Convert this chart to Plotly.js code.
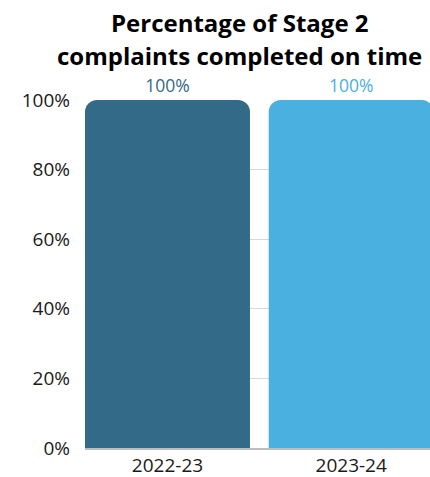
<!DOCTYPE html>
<html>
<head>
<meta charset="utf-8">
<script src="https://cdn.plot.ly/plotly-3.0.1.min.js"></script>
<style>html,body{margin:0;padding:0;background:#fff;}#chart{width:430px;height:477px;}</style>
</head>
<body>
<div id="chart"></div>
<script>
const categories = ["2022-23", "2023-24"];
const values = [100, 100];
const labels = ["100%", "100%"];
const barColors = ["#336a88", "#4ab0df"];
const yTickVals = [0, 20, 40, 60, 80, 100];
const yTickText = ["0%", "20%", "40%", "60%", "80%", "100%"];
const titleLines = ["Percentage of Stage 2", "complaints completed on time"];

const tickFont = {family: "Open Sans", size: 19, weight: 400, color: "#1a1a1a"};

const trace = {
  type: "bar",
  x: categories,
  y: values,
  text: labels,
  textposition: "outside",
  cliponaxis: false,
  textfont: {family: "Open Sans", size: 17.5, weight: 400, color: barColors},
  marker: {color: barColors, cornerradius: 12},
  width: 0.898,
  hoverinfo: "none"
};

const layout = {
  width: 430, height: 477,
  margin: {l: 85, r: 0, t: 100, b: 29},
  paper_bgcolor: "#ffffff", plot_bgcolor: "#ffffff",
  showlegend: false,
  font: {family: "Open Sans", color: "#111111"},
  xaxis: {
    type: "category",
    range: [-0.449, 1.429],
    showgrid: false,
    showline: true, linecolor: "#bdbdbd", linewidth: 1.5,
    ticks: "",
    tickfont: tickFont,
    fixedrange: true
  },
  yaxis: {
    range: [0, 100],
    tickvals: yTickVals,
    ticktext: yTickText,
    showgrid: true, gridcolor: "#d9d9d9", gridwidth: 1,
    zeroline: false,
    showline: false,
    ticks: "",
    ticklabelstandoff: 14,
    tickfont: tickFont,
    fixedrange: true
  },
  annotations: titleLines.map((t, i) => ({
    text: "<b>" + t + "</b>",
    xref: "paper", yref: "paper",
    x: 0.449, y: i === 0 ? 1.2241 : 1.1265,
    xanchor: "center", yanchor: "middle",
    showarrow: false,
    borderpad: 0,
    font: {family: "Open Sans", size: 24, weight: 800, color: "#000000"}
  }))
};

Plotly.newPlot("chart", [trace], layout, {displayModeBar: false, staticPlot: true});
</script>
</body>
</html>
